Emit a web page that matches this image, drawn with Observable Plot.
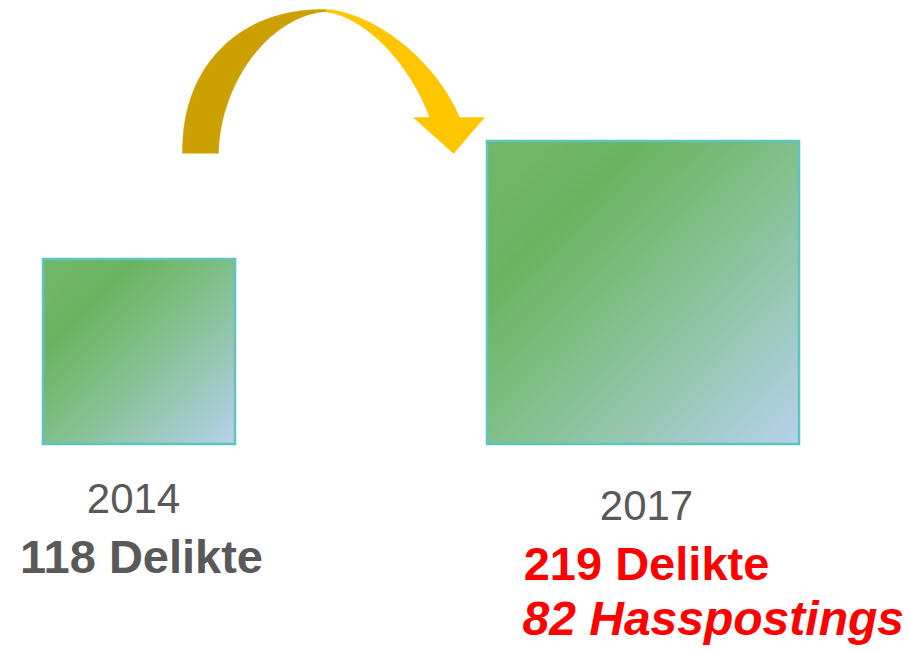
<!DOCTYPE html>
<html>
<head>
<meta charset="utf-8">
<script src="https://cdn.jsdelivr.net/npm/d3@7"></script>
<script src="https://cdn.jsdelivr.net/npm/@observablehq/plot@0.6"></script>
<style>
  html, body { margin: 0; padding: 0; background: #ffffff; }
  #chart { width: 910px; height: 650px; }
</style>
</head>
<body>
<div id="chart"></div>
<script>
// ---- data ----
const years = ["2014", "2017"];
const delikte = [118, 219];
const hasspostings = [null, 82];
const deliktLabels = ["118 Delikte", "219 Delikte"];
const postingLabels = [null, "82 Hasspostings"];

// ---- layout (plot units = pixels) ----
const W = 910, H = 650;
const centers = [139, 643];
const baseY = 444;
const sideW = d3.scaleLinear([118, 219], [192, 312]);
const sideH = d3.scaleLinear([118, 219], [185, 303]);

const squares = years.map((yr, i) => ({
  year: yr,
  x1: centers[i] - sideW(delikte[i]) / 2,
  x2: centers[i] + sideW(delikte[i]) / 2,
  y1: baseY - sideH(delikte[i]),
  y2: baseY
}));

const yearText = years.map((yr, i) => ({
  text: yr,
  x: centers[i] + [-6, 3][i],
  y: baseY + [68, 75][i]
}));
const deliktText = deliktLabels.map((t, i) => ({
  text: t,
  x: centers[i] + [2, 3][i],
  y: baseY + [128, 135][i],
  color: i === 1 ? "#ff0000" : "#595959"
}));
const postingText = postingLabels
  .map((t, i) => ({ text: t, x: centers[i] - 121, y: baseY + 190, v: hasspostings[i] }))
  .filter(d => d.text != null);

// ---- curved arrow geometry (superellipse arcs) ----
function arc(cx, cy, rx, ry, n, t0, t1, steps = 60) {
  const pts = [];
  for (let k = 0; k <= steps; k++) {
    const t = t0 + (t1 - t0) * k / steps;
    const c = Math.cos(t), s = Math.sin(t);
    pts.push({
      x: cx + Math.sign(c) * rx * Math.pow(Math.abs(c), 2 / n),
      y: cy - ry * Math.pow(Math.abs(s), 2 / n)
    });
  }
  return pts;
}
const headY = 117;
const tOuter = Math.asin(Math.pow((153 - headY) / 144, 1.65 / 2));
const tInner = Math.asin(Math.pow((153 - headY) / 141, 1.6 / 2));
const darkPart = [
  ...arc(325, 153, 143, 144, 2.2, Math.PI, Math.PI / 2),
  ...arc(328, 153, 110, 142, 1.85, Math.PI / 2, Math.PI)
];
const outerR = arc(325, 153, 143, 144, 1.65, Math.PI / 2, tOuter);
const innerR = arc(327, 153, 110, 141, 1.6, tInner, Math.PI / 2);
const lightPart = [
  ...outerR,
  { x: 484, y: headY },
  { x: 453, y: 153 },
  { x: 413, y: headY },
  ...innerR
];

const font = "'Liberation Sans', Arial, Helvetica, sans-serif";

const chart = Plot.plot({
  width: W,
  height: H,
  margin: 0,
  x: { domain: [0, W], axis: null },
  y: { domain: [0, H], reverse: true, axis: null },
  style: { fontFamily: font, background: "#ffffff", overflow: "visible" },
  marks: [
    Plot.line(darkPart, { x: "x", y: "y", fill: "#cca000", stroke: "#cca000", strokeWidth: 0.5 }),
    Plot.line(lightPart, { x: "x", y: "y", fill: "#ffc600", stroke: "#ffc600", strokeWidth: 0.5 }),
    Plot.rect(squares, {
      x1: "x1", x2: "x2", y1: "y1", y2: "y2",
      fill: "url(#sqGrad)", stroke: "#5ec4c0", strokeWidth: 2.5
    }),
    Plot.text(yearText, {
      x: "x", y: "y", text: "text", fill: "#595959",
      fontSize: 42, lineAnchor: "bottom", textAnchor: "middle"
    }),
    Plot.text(deliktText, {
      x: "x", y: "y", text: "text", fill: "color",
      fontSize: 47, fontWeight: "bold", lineAnchor: "bottom", textAnchor: "middle"
    }),
    Plot.text(postingText, {
      x: "x", y: "y", text: "text", fill: "#ff0000",
      fontSize: 48, fontWeight: "bold", fontStyle: "italic",
      lineAnchor: "bottom", textAnchor: "start"
    })
  ]
});

// gradient definition for the squares
const ns = "http://www.w3.org/2000/svg";
const defs = document.createElementNS(ns, "defs");
const grad = document.createElementNS(ns, "linearGradient");
grad.setAttribute("id", "sqGrad");
grad.setAttribute("x1", "0"); grad.setAttribute("y1", "0");
grad.setAttribute("x2", "1"); grad.setAttribute("y2", "1");
[["0", "#72b76a"], ["0.25", "#6ab460"], ["0.55", "#85c192"], ["1", "#b6d1ec"]].forEach(([o, c]) => {
  const s = document.createElementNS(ns, "stop");
  s.setAttribute("offset", o);
  s.setAttribute("stop-color", c);
  grad.appendChild(s);
});
defs.appendChild(grad);
chart.insertBefore(defs, chart.firstChild);

document.getElementById("chart").appendChild(chart);
</script>
</body>
</html>
